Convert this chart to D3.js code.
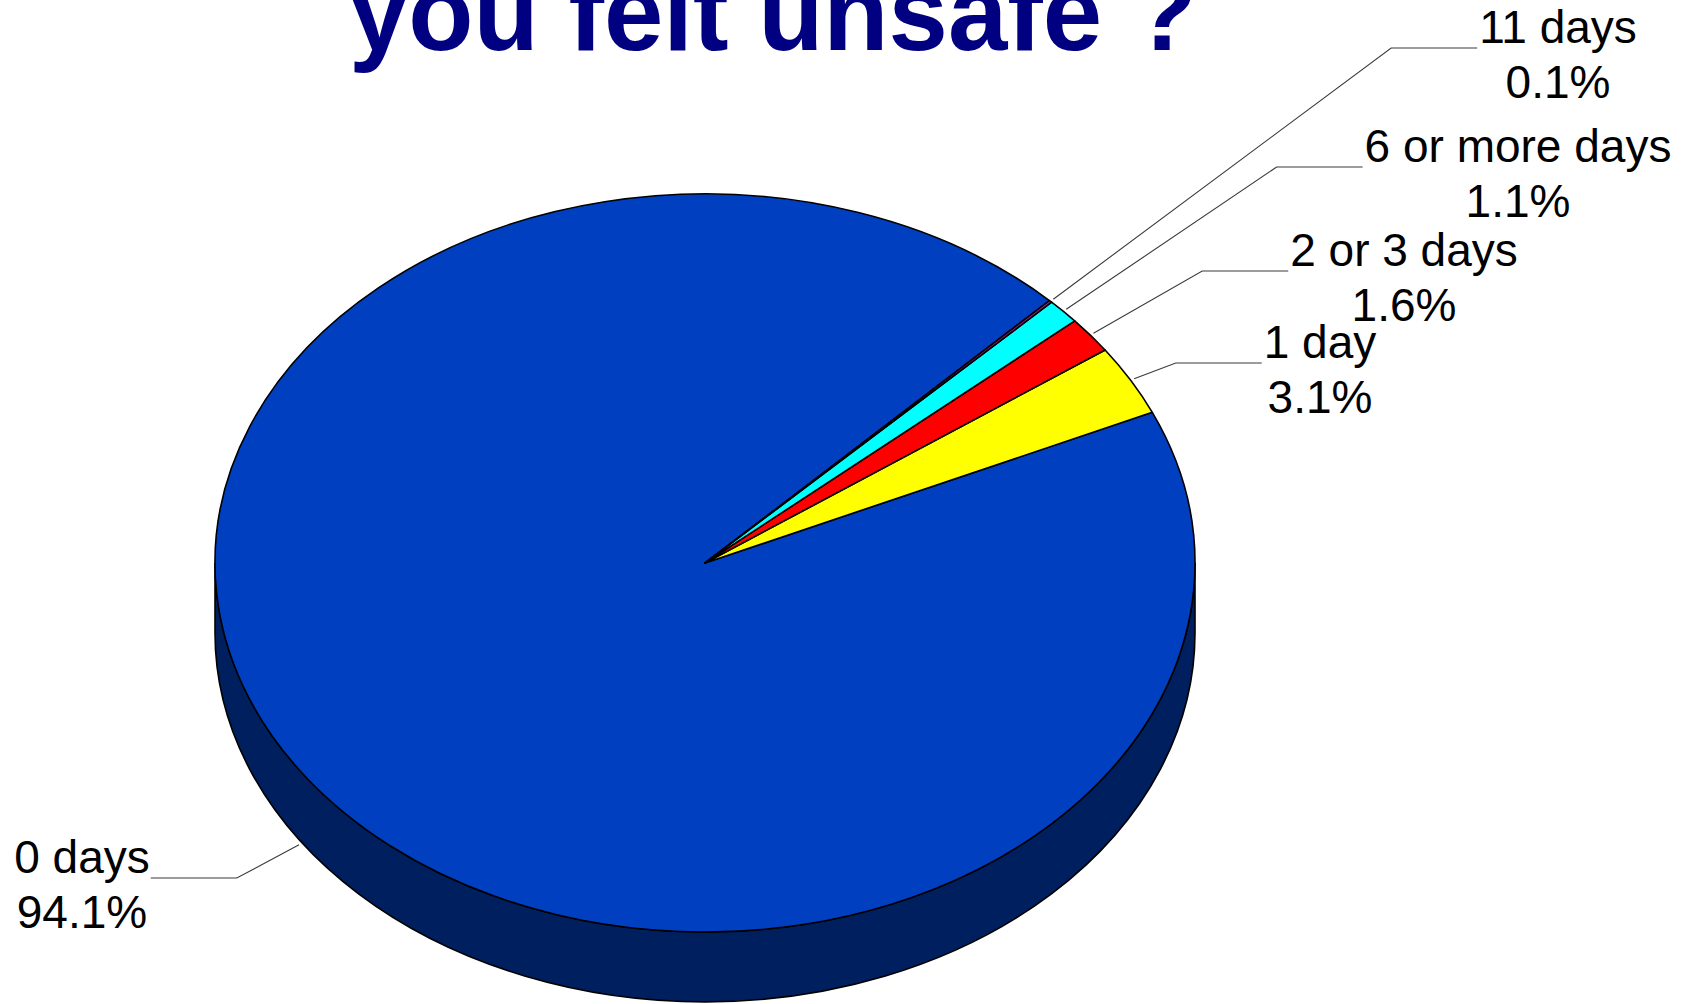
<!DOCTYPE html>
<html>
<head>
<meta charset="utf-8">
<script src="https://cdn.jsdelivr.net/npm/d3@7"></script>
<style>
html,body{margin:0;padding:0;background:#fff;}
svg{display:block;}
text{font-family:"Liberation Sans",Arial,sans-serif;}
</style>
</head>
<body>
<svg id="chart" width="1697" height="1004"></svg>
<script>
// ---- data ----
const categories = ["0 days", "1 day", "2 or 3 days", "6 or more days", "11 days"];
const values = [94.1, 3.1, 1.6, 1.1, 0.1];
const percentLabels = ["94.1%", "3.1%", "1.6%", "1.1%", "0.1%"];
const colors = ["#0040C0", "#FFFF00", "#FF0000", "#00FFFF", "#A020A0"];
const titleText = "you felt unsafe ?";

// ---- layout ----
const W = 1697, H = 1004;
const cx = 705, cy = 563, rx = 490, ry = 369, depth = 70;
const k = ry / rx;
const deg = Math.PI / 180;
const startDeg = 404.66, endDeg = 44.66;   // counter-clockwise sweep
// label anchor: [center x, first baseline y]
const labelAnchor = [[82, 873], [1320, 358], [1404, 266], [1518, 162], [1558, 43]];
const lineGap = 55;
const labelFont = 46;

const svg = d3.select("#chart");
svg.append("rect").attr("width", W).attr("height", H).attr("fill", "#fff");

// title (only its last line is within the frame)
svg.append("text")
  .attr("x", 773).attr("y", 50)
  .attr("text-anchor", "middle")
  .attr("font-size", 110).attr("font-weight", "bold")
  .attr("fill", "#000080")
  .attr("textLength", 848).attr("lengthAdjust", "spacingAndGlyphs")
  .text(titleText);

const pie = d3.pie().sort(null).value(d => d)
  .startAngle(startDeg * deg).endAngle(endDeg * deg);
const arcsData = pie(values);

const g = svg.append("g").attr("transform", `translate(${cx},${cy}) scale(1,${k})`);

// side wall (front half) — belongs to the large slice
const d = depth / k;
const sidePath = `M${-rx},0 L${-rx},${d} A${rx},${rx} 0 0 0 ${rx},${d} L${rx},0 A${rx},${rx} 0 0 1 ${-rx},0 Z`;
g.append("path").attr("d", sidePath)
  .attr("fill", "#001F5E").attr("stroke", "#000").attr("stroke-width", 1.6)
  .attr("vector-effect", "non-scaling-stroke");

const arc = d3.arc().innerRadius(0).outerRadius(rx);
g.selectAll("path.slice").data(arcsData).join("path")
  .attr("class", "slice")
  .attr("d", arc)
  .attr("fill", (dd, i) => colors[i])
  .attr("stroke", "#000").attr("stroke-width", 1.6)
  .attr("stroke-linejoin", "round")
  .attr("vector-effect", "non-scaling-stroke");

// labels + leader lines
const labels = svg.append("g");
arcsData.forEach((a, i) => {
  const [lx, ly] = labelAnchor[i];
  const t = labels.append("text")
    .attr("text-anchor", "middle").attr("font-size", labelFont).attr("fill", "#000");
  const t1 = t.append("tspan").attr("x", lx).attr("y", ly).text(categories[i]);
  t.append("tspan").attr("x", lx).attr("y", ly + lineGap).text(percentLabels[i]);
  const w1 = t1.node().getComputedTextLength();

  const mid = (a.startAngle + a.endAngle) / 2;
  let sx = cx + rx * 1.008 * Math.sin(mid);
  let sy = cy - ry * 1.008 * Math.cos(mid);
  if (Math.cos(mid) < 0) sy += depth;           // front slices: point on the wall base
  const hy = ly + 5;
  const rightSide = sx > cx;
  const ex = rightSide ? lx - w1 / 2 - 2 : lx + w1 / 2 + 1;
  const elx = rightSide ? ex - 86 : ex + 86;
  labels.append("path")
    .attr("d", `M${sx},${sy} L${elx},${hy} L${ex},${hy}`)
    .attr("fill", "none").attr("stroke", "#3a3a3a").attr("stroke-width", 1.1);
});
</script>
</body>
</html>
